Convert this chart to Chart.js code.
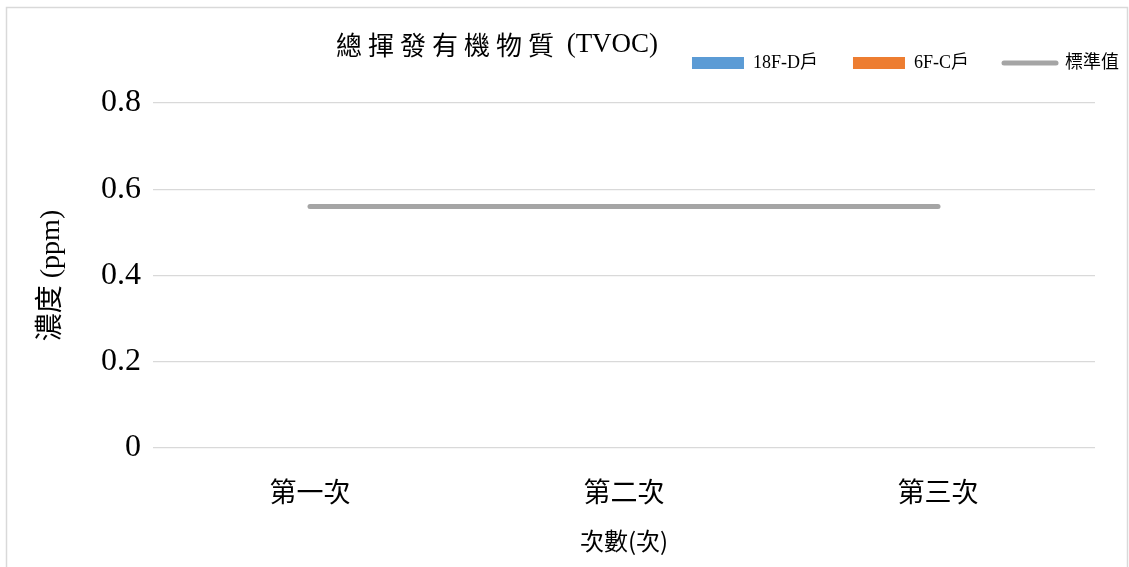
<!DOCTYPE html>
<html>
<head>
<meta charset="utf-8">
<script src="https://cdn.jsdelivr.net/npm/chart.js@4/dist/chart.umd.min.js"></script>
<style>
  html, body { margin: 0; padding: 0; background: #fff; }
  canvas { display: block; }
</style>
</head>
<body>
<canvas id="tvoc" width="1129" height="567"></canvas>
<script>
'use strict'

// 量測資料
var categories = ['第一次', '第二次', '第三次'];
var series18FD = [0, 0, 0];
var series6FC = [0, 0, 0];
var standardValue = [0.56, 0.56, 0.56];
var yTicks = [0, 0.2, 0.4, 0.6, 0.8];

var titleMain = '總揮發有機物質';
var titleUnit = ' (TVOC)';

var serif = '"Liberation Serif", "Noto Sans CJK TC", serif';
var cjk = '"Noto Sans CJK TC", "Liberation Serif", sans-serif';

// 外框與白底
var frame = {
	id: 'frame',
	beforeDraw: function (chart) {
		var ctx = chart.ctx;
		ctx.save();
		ctx.fillStyle = '#fff';
		ctx.fillRect(0, 0, chart.width, chart.height);
		ctx.strokeStyle = '#d9d9d9';
		ctx.lineWidth = 1.5;
		ctx.strokeRect(6.5, 7.5, 1121, 600);
		ctx.restore();
	}
};

// 標題：中文字距較寬，英文另外畫
var chartTitle = {
	id: 'chartTitle',
	afterDraw: function (chart) {
		var ctx = chart.ctx;
		ctx.save();
		ctx.fillStyle = '#000';
		ctx.textBaseline = 'middle';
		ctx.textAlign = 'left';
		ctx.font = '26px ' + cjk;
		ctx.letterSpacing = '6px';
		var w1 = ctx.measureText(titleMain).width;
		ctx.letterSpacing = '0px';
		ctx.font = '27px ' + serif;
		var w2 = ctx.measureText(titleUnit).width;
		var x = 497 - (w1 + w2) / 2;
		ctx.font = '26px ' + cjk;
		ctx.letterSpacing = '6px';
		ctx.fillText(titleMain, x, 45);
		ctx.letterSpacing = '0px';
		ctx.font = '27px ' + serif;
		ctx.fillText(titleUnit, x + w1, 45);
		ctx.restore();
	}
};

// 圖例下方多留一點空間
var legendGap = {
	id: 'legendGap',
	afterInit: function (chart) {
		var legend = chart.legend;
		if (!legend) return;
		var fit = legend.fit;
		legend.fit = function () {
			fit.call(this);
			this.height += 21;
		};
	}
};

var chart = new Chart(document.getElementById('tvoc'), {
	type: 'bar',
	data: {
		labels: categories,
		datasets: [
			{
				label: '18F-D戶',
				data: series18FD,
				backgroundColor: '#5B9BD5',
				borderWidth: 0
			},
			{
				label: '6F-C戶',
				data: series6FC,
				backgroundColor: '#ED7D31',
				borderWidth: 0
			},
			{
				type: 'line',
				label: '標準值',
				data: standardValue,
				borderColor: '#A5A5A5',
				backgroundColor: '#A5A5A5',
				borderWidth: 5,
				borderCapStyle: 'round',
				pointRadius: 0,
				fill: false
			}
		]
	},
	options: {
		responsive: false,
		animation: false,
		layout: {
			padding: { top: 19, right: -25, bottom: 0, left: 0 }
		},
		plugins: {
			tooltip: { enabled: false },
			title: { display: false },
			legend: {
				position: 'top',
				align: 'end',
				labels: {
					usePointStyle: true,
					pointStyleWidth: 52,
					boxHeight: 12,
					padding: 35,
					color: '#000',
					font: { size: 18, family: serif },
					generateLabels: function (chart) {
						return chart.data.datasets.map(function (ds, i) {
							var isLine = ds.type === 'line';
							return {
								text: ds.label,
								datasetIndex: i,
								fillStyle: ds.backgroundColor,
								strokeStyle: isLine ? ds.borderColor : ds.backgroundColor,
								lineWidth: isLine ? 5 : 0,
								lineCap: isLine ? 'round' : 'butt',
								pointStyle: isLine ? 'line' : 'rect',
								fontColor: '#000',
								hidden: false
							};
						});
					}
				}
			}
		},
		scales: {
			x: {
				grid: { display: false, drawTicks: false },
				border: { display: false },
				ticks: {
					color: '#000',
					padding: 28,
					font: { size: 27, family: cjk }
				},
				title: {
					display: true,
					text: '次數(次)',
					color: '#000',
					padding: { top: 0, bottom: 12 },
					font: { size: 24, family: cjk }
				},
				afterFit: function (scale) { scale.height = 119; }
			},
			y: {
				min: 0,
				max: 0.8,
				grid: { color: '#d9d9d9', lineWidth: 1.3, drawTicks: false },
				border: { display: false },
				afterBuildTicks: function (scale) {
					scale.ticks = yTicks.map(function (v) { return { value: v }; });
				},
				ticks: {
					color: '#000',
					padding: 12,
					font: { size: 32, family: serif },
					callback: function (value) { return String(value); }
				},
				title: {
					display: true,
					text: '濃度 (ppm)',
					color: '#000',
					padding: { top: 35, bottom: 0 },
					font: { size: 28, family: serif }
				},
				afterFit: function (scale) { scale.width = 153; }
			},
			// 右側留白
			yPad: {
				position: 'right',
				display: true,
				grid: { display: false },
				border: { display: false },
				ticks: { display: false },
				afterFit: function (scale) { scale.width = 59; }
			}
		}
	},
	plugins: [frame, chartTitle, legendGap]
});
</script>
</body>
</html>
